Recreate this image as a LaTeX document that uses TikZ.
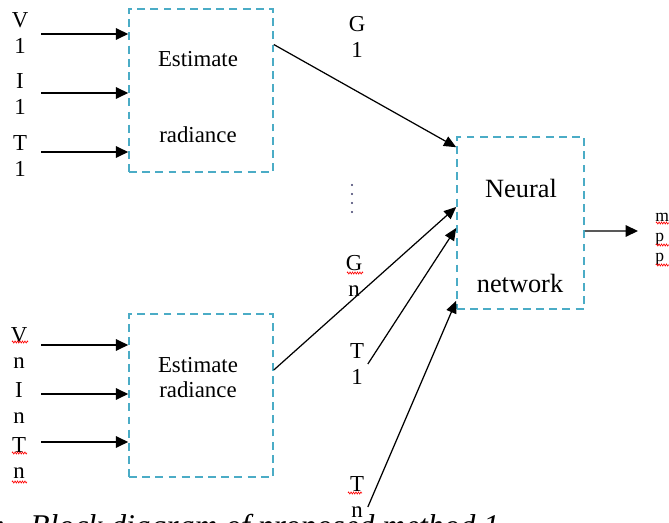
\documentclass[tikz,border=0pt]{standalone}
\usepackage{fontspec}
\setmainfont{Liberation Serif}
\usetikzlibrary{arrows.meta,decorations.pathmorphing}

\definecolor{boxblue}{RGB}{75,172,198}
\definecolor{dotnavy}{RGB}{60,60,105}

\tikzset{
	dashbox/.style={draw=boxblue, line width=0.9pt, dash pattern=on 4.5pt off 3pt, inner sep=0pt},
	feed/.style={line width=0.85pt, -{Triangle[length=7pt,width=6.5pt]}},
	slant/.style={line width=0.7pt, -{Triangle[length=7pt,width=6pt]}},
	sig/.style={font=\fontsize{13}{15}\selectfont, align=center, inner sep=0pt},
	boxtext/.style={font=\fontsize{13}{15}\selectfont, inner sep=0pt},
	spell/.style={red, line width=0.35pt, decorate, decoration={zigzag, segment length=1.4pt, amplitude=0.6pt}}
}

\begin{document}
\begin{tikzpicture}[x=0.02cm, y=-0.02cm]
			\useasboundingbox (0,0) rectangle (669,523);
			\clip (0,0) rectangle (669,523);
			% the three blocks
			\node[dashbox, minimum width=2.88cm, minimum height=3.26cm] (est1) at (201,90.5) {};
			\node[dashbox, minimum width=2.88cm, minimum height=3.26cm] (est2) at (201,395.5) {};
			\node[dashbox, minimum width=2.54cm, minimum height=3.44cm] (nn) at (520.5,223) {};
			\node[boxtext] (est1a) at (198,59) {Estimate};
			\node[boxtext] (est1b) at (198,135) {radiance};
			\node[boxtext, align=center, font=\fontsize{13}{14.2}\selectfont] (est2a) at (198,377.5) {Estimate\\radiance};
			\node[boxtext, font=\fontsize{15}{17}\selectfont] (nna) at (521,188) {Neural};
			\node[boxtext, font=\fontsize{15}{17}\selectfont] (nnb) at (520,283) {network};
			% inputs of the first block
			\node[sig] (v1) at (20,33) {V\\1};
			\node[sig] (i1) at (20,94) {I\\1};
			\node[sig] (t1) at (20,156) {T\\1};
			\coordinate (v1in) at (41,34);
			\coordinate (i1in) at (41,93);
			\coordinate (t1in) at (41,152);
			\draw[feed] (v1in) -- (v1in -| est1.west);
			\draw[feed] (i1in) -- (i1in -| est1.west);
			\draw[feed] (t1in) -- (t1in -| est1.west);
			% inputs of the last block
			\node[sig] (vn) at (19,348) {V\\n};
			\node[sig] (in) at (19,403) {I\\n};
			\node[sig] (tn) at (19,458) {T\\n};
			\coordinate (vnin) at (41,345);
			\coordinate (inin) at (41,394);
			\coordinate (tnin) at (41,442);
			\draw[feed] (vnin) -- (vnin -| est2.west);
			\draw[feed] (inin) -- (inin -| est2.west);
			\draw[feed] (tnin) -- (tnin -| est2.west);
			% signals into the network
			\node[sig] (g1) at (357,37) {G\\1};
			\foreach \y in {185,194,203,212}
				\fill[dotnavy] (352,\y) circle [radius=1.1];
			\node[sig] (gn) at (354,276) {G\\n};
			\node[sig] (tm1) at (357,364) {T\\1};
			\node[sig] (tmn) at (357,497) {T\\n};
			\draw[slant] ([yshift=0.92cm]est1.east) -- ([yshift=-0.22cm]nn.north west);
			\draw[slant] ([yshift=0.51cm]est2.east) -- ([yshift=0.32cm]nn.west);
			\draw[slant] ([xshift=2pt]tm1.east) -- ([yshift=-0.1cm]nn.west);
			\draw[slant] ([xshift=2pt,yshift=-0.2cm]tmn.east) -- ([yshift=0.18cm]nn.south west);
			% output
			\coordinate (mppin) at (638,231);
			\draw[feed] ([yshift=-0.16cm]nn.east) -- (mppin);
			\node[anchor=west, align=left, inner sep=0pt, font=\fontsize{10}{11.4}\selectfont] (mpp) at (655,239) {m\\p\\p};
			% spelling marks
			\draw[spell] (12,342) -- (28,342);
			\draw[spell] (12,453) -- (27,453);
			\draw[spell] (12,482) -- (27,482);
			\draw[spell] (347,273) -- (363,273);
			\draw[spell] (348,493) -- (362,493);
			\draw[spell] (656,223) -- (669,223);
			\draw[spell] (656,245) -- (669,245);
			\draw[spell] (656,265) -- (669,265);
			% caption
			\node[anchor=base west, inner sep=0pt, font=\fontsize{18}{20}\selectfont\itshape] (cap) at (30,536) {\llap{3:\hspace{0.5cm}}Block diagram of proposed method 1};
\end{tikzpicture}
\end{document}
